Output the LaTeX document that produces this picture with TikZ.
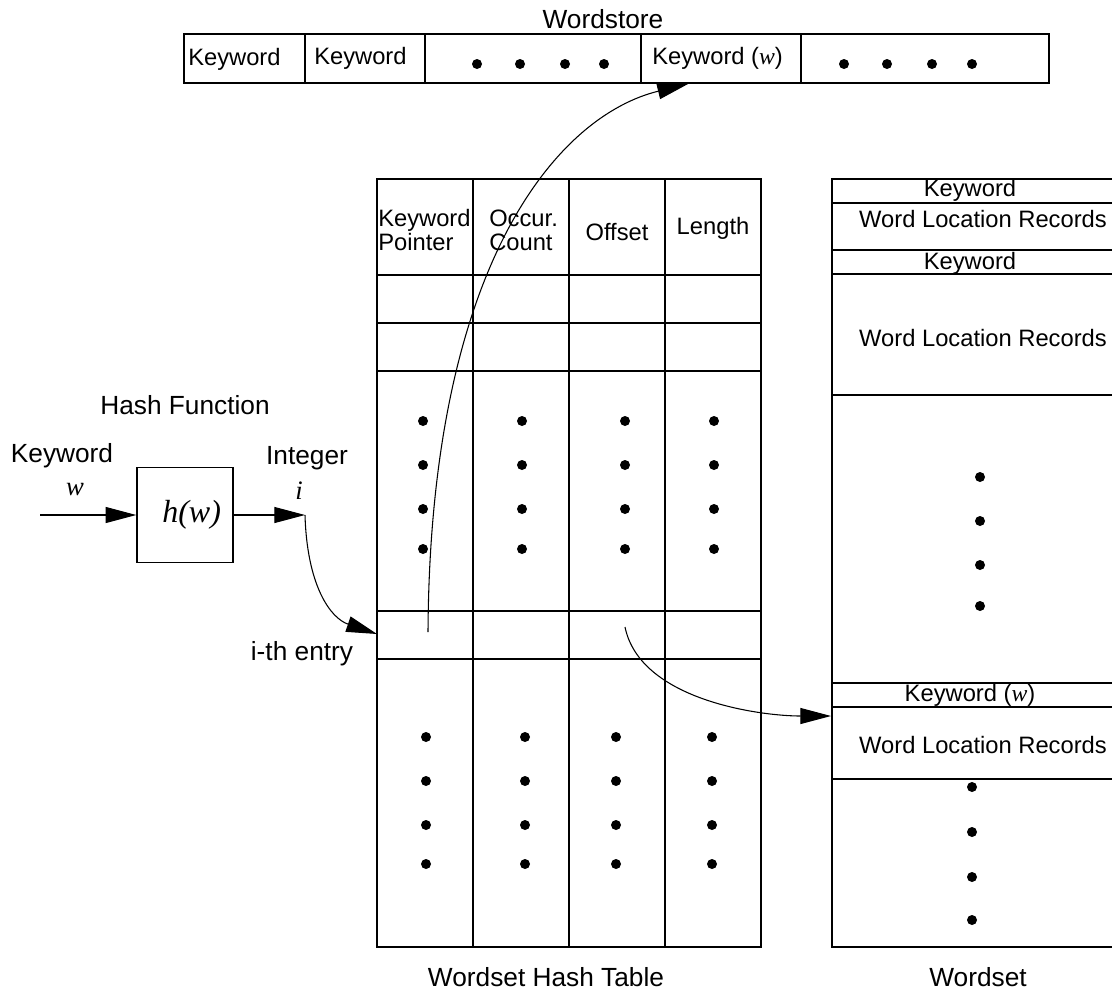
\documentclass[tikz,border=0pt]{standalone}
\usepackage{fontspec}
\setmainfont{Liberation Sans}
\newfontfamily\timesit{Liberation Serif}
\usetikzlibrary{arrows.meta}

\newcommand{\kvar}[1]{{\timesit\itshape #1}}

\begin{document}
\begin{tikzpicture}[x=0.75pt,y=0.75pt,yscale=-1,xscale=1,
  lbl/.style={font=\fontsize{17.8}{18}\selectfont, inner sep=0pt},
  head/.style={font=\fontsize{19.7}{21}\selectfont, inner sep=0pt},
  big/.style={font=\fontsize{20}{22}\selectfont\timesit\itshape, inner sep=0pt},
  rule/.style={line width=1.1pt},
  link/.style={line width=0.8pt, -{Triangle[length=23pt,width=12pt]}}]
\useasboundingbox (0,0) rectangle (1112,992);

%Wordstore
\node[head] (wstitle) at (603,19) {Wordstore};
\draw[rule] (184,34) rectangle (1049,83);
\foreach \x in {305,425,641,801} \draw[rule] (\x,34) -- (\x,83);
\node[lbl,anchor=west] (ws1) at (188,59) {Keyword};
\node[lbl,anchor=west] (ws2) at (314,58) {Keyword};
\node[lbl,anchor=west] (wsw) at (652,58) {Keyword (\kvar{w})};
\foreach \x in {477,520,565,604,844,887,932,972} \fill (\x,64) circle (5);
\coordinate (wstip) at (688,84);

%Wordset Hash Table
\draw[rule] (377,179) rectangle (761,947);
\foreach \x in {473,569,665} \draw[rule] (\x,179) -- (\x,947);
\foreach \y in {275,323,371,611,659} \draw[rule] (377,\y) -- (761,\y);
\node[lbl,anchor=west,align=left] (kptr) at (378,230) {Keyword\\Pointer};
\node[lbl,anchor=west,align=left] (occ) at (489,230) {Occur.\\Count};
\node[lbl] (offs) at (617,232) {Offset};
\node[lbl] (len) at (713,228) {Length};
\foreach \x in {423,522,625,714}
  \foreach \y in {421,465,509,549} \fill (\x,\y) circle (5);
\foreach \x in {426,525,616,712}
  \foreach \y in {737,781,825,864} \fill (\x,\y) circle (5);
\node[head] (httitle) at (546,977) {Wordset Hash Table};
\coordinate (ientry) at (377,634);
\coordinate (kwfrom) at (428,632);
\coordinate (offrom) at (625,627);

%Wordset
\draw[rule] (1140,179) -- (832,179) -- (832,947) -- (1140,947);
\foreach \y in {203,250,274,395,683,707,779} \draw[rule] (832,\y) -- (1140,\y);
\node[lbl] (rk1) at (970,190) {Keyword};
\node[lbl] (rw1) at (983,219) {Word Location Records};
\node[lbl] (rk2) at (970,263) {Keyword};
\node[lbl] (rw2) at (983,338) {Word Location Records};
\foreach \y in {477,521,565,606} \fill (980,\y) circle (5);
\node[lbl] (rkw) at (970,695) {Keyword (\kvar{w})};
\node[lbl] (rw3) at (983,745) {Word Location Records};
\foreach \y in {787,832,877,920} \fill (972,\y) circle (5);
\node[head] (wsettitle) at (978,977) {Wordset};
\coordinate (wsrec) at (831,716);

%Hash Function
\node[head] (hftitle) at (185,405) {Hash Function};
\node[draw,rule,minimum width=72pt,minimum height=71pt,inner sep=0pt,
  font=\fontsize{24}{26}\selectfont\timesit\itshape] (hf) at (185,515) {\hspace{10pt}h(w)};
\node[head] (kwin) at (62,456) {Keyword};
\node[big] (wvar) at (75,490) {w};
\node[head] (intlbl) at (307,458) {Integer};
\node[big] (ivar) at (299,491) {i};
\node[head] (ith) at (302,654) {i-th entry};
\coordinate (kwstart) at (40,515);
\coordinate (intout) at (305,515);

%Connectors
\draw[link] (kwstart) -- (hf.west);
\draw[link] (hf.east) -- (intout);
\draw[link] (intout) .. controls (307,585) and (330,618) .. (ientry);
\draw[link] (kwfrom) .. controls (430,260) and (560,115) .. (wstip);
\draw[link] (offrom) .. controls (640,700) and (760,716) .. (wsrec);

\end{tikzpicture}
\end{document}
